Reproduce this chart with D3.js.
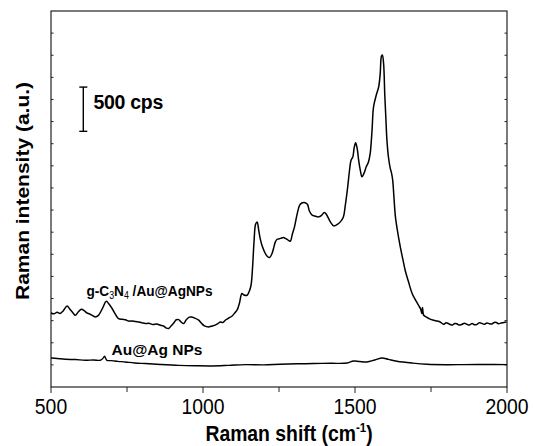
<!DOCTYPE html>
<html>
<head>
<meta charset="utf-8">
<script src="https://cdn.jsdelivr.net/npm/d3@7"></script>
<style>
  body { margin: 0; background: #fff; }
  text { font-family: "Liberation Sans", Arial, sans-serif; }
</style>
</head>
<body>
<div id="chart"></div>
<script>
// Raman shift (cm-1) and intensity
const hybridShift = [500, 510, 520, 530, 540, 553, 562, 572, 580, 590, 600, 610, 618, 630, 646, 656, 668, 682, 690, 701, 712, 722, 735, 745, 755, 766, 778, 790, 800, 810, 822, 835, 848, 860, 870, 880, 887, 895, 905, 912, 920, 928, 936, 945, 955, 962, 972, 986, 995, 1005, 1018, 1030, 1040, 1050, 1057, 1065, 1075, 1085, 1095, 1105, 1112, 1120, 1128, 1135, 1145, 1152, 1158, 1163, 1168, 1173, 1178, 1183, 1188, 1195, 1205, 1212, 1219, 1226, 1232, 1238, 1243, 1255, 1265, 1271, 1280, 1287, 1294, 1301, 1310, 1318, 1325, 1333, 1340, 1344, 1350, 1359, 1370, 1380, 1390, 1399, 1406, 1413, 1420, 1430, 1438, 1446, 1455, 1462, 1468, 1476, 1482, 1487, 1493, 1497, 1502, 1507, 1512, 1518, 1523, 1530, 1537, 1544, 1550, 1556, 1561, 1570, 1578, 1583, 1587, 1590, 1594, 1598, 1602, 1605, 1610, 1616, 1620, 1624, 1628, 1633, 1640, 1649, 1657, 1665, 1675, 1688, 1698, 1709, 1716, 1720, 1722, 1726, 1735, 1745, 1759, 1770, 1780, 1791, 1800, 1810, 1820, 1828, 1835, 1842, 1850, 1860, 1868, 1876, 1885, 1893, 1900, 1908, 1915, 1925, 1934, 1942, 1950, 1958, 1965, 1972, 1980, 1990, 1998];
const hybridIntensity = [837, 828, 845, 832, 860, 916, 880, 840, 811, 850, 879, 860, 837, 820, 792, 810, 880, 969, 940, 887, 820, 774, 765, 760, 745, 747, 740, 735, 725, 717, 720, 706, 712, 698, 690, 665, 661, 690, 730, 760, 762, 735, 717, 760, 790, 792, 780, 755, 720, 690, 679, 690, 700, 720, 735, 730, 760, 780, 800, 840, 868, 950, 1057, 1040, 1037, 1080, 1150, 1350, 1650, 1840, 1866, 1780, 1679, 1590, 1509, 1475, 1464, 1500, 1566, 1640, 1667, 1680, 1690, 1679, 1660, 1648, 1730, 1810, 1960, 2055, 2080, 2086, 2075, 2063, 1990, 1942, 1930, 1923, 1940, 1973, 1950, 1905, 1860, 1821, 1830, 1848, 1880, 1923, 2050, 2262, 2450, 2564, 2602, 2700, 2760, 2700, 2564, 2440, 2376, 2420, 2489, 2540, 2640, 2900, 3167, 3300, 3394, 3545, 3740, 3752, 3658, 3300, 3000, 2791, 2600, 2471, 2420, 2338, 2150, 1923, 1760, 1584, 1450, 1320, 1200, 1057, 990, 924, 880, 830, 900, 811, 790, 770, 755, 745, 735, 709, 725, 712, 700, 718, 715, 700, 705, 720, 709, 700, 718, 704, 705, 725, 722, 708, 724, 715, 712, 730, 730, 715, 722, 730, 735];

const bareShift = [500, 520, 547, 580, 613, 640, 662, 670, 676, 684, 700, 720, 744, 775, 810, 860, 920, 975, 1030, 1085, 1139, 1200, 1254, 1310, 1364, 1420, 1474, 1495, 1515, 1539, 1565, 1589, 1610, 1638, 1690, 1737, 1800, 1857, 1930, 2000];
const bareIntensity = [328, 322, 313, 310, 302, 306, 302, 320, 347, 302, 298, 290, 283, 272, 265, 255, 245, 240, 238, 245, 253, 250, 257, 262, 265, 268, 271, 294, 288, 283, 305, 328, 312, 291, 270, 257, 252, 253, 255, 253];

const xTicksMajor = [500, 1000, 1500, 2000];
const xTicksMinor = [750, 1250, 1750];
const yTickStep = 250;
const scaleBar = [3390, 2890]; // 500 cps
const scaleBarLabel = "500 cps";

const width = 534, height = 446;
const margin = { top: 11, right: 27, bottom: 59, left: 51 };
const squeeze = 0.88;

const svg = d3.select("#chart").append("svg")
  .attr("width", width)
  .attr("height", height);

const x = d3.scaleLinear().domain([500, 2000]).range([margin.left, width - margin.right]);
const y = d3.scaleLinear().domain([0, 4250]).range([height - margin.bottom, margin.top]);

const x0 = x.range()[0], x1 = x.range()[1];
const yb = y.range()[0], yt = y.range()[1];

// frame
svg.append("rect")
  .attr("x", x0).attr("y", yt)
  .attr("width", x1 - x0).attr("height", yb - yt)
  .attr("fill", "none").attr("stroke", "#222").attr("stroke-width", 1.2);

// bottom ticks (outside)
svg.append("g").selectAll("line")
  .data(xTicksMajor.concat(xTicksMinor))
  .join("line")
    .attr("x1", d => x(d)).attr("x2", d => x(d))
    .attr("y1", yb).attr("y2", d => yb + (xTicksMajor.includes(d) ? 6 : 5))
    .attr("stroke", "#222");

svg.append("g").selectAll("text")
  .data(xTicksMajor)
  .join("text")
    .attr("transform", d => `translate(${x(d)}, ${yb + 26.5}) scale(${squeeze},1)`)
    .attr("text-anchor", "middle")
    .style("font-size", "22px")
    .text(d => d);

// y ticks inside, left and right, no labels
const yTicks = d3.range(yTickStep, 4250, yTickStep);
svg.append("g").selectAll("line")
  .data(yTicks)
  .join("line")
    .attr("x1", x0).attr("x2", x0 + 2.5)
    .attr("y1", d => y(d)).attr("y2", d => y(d))
    .attr("stroke", "#222");
svg.append("g").selectAll("line")
  .data(yTicks)
  .join("line")
    .attr("x1", x1).attr("x2", x1 - 2.5)
    .attr("y1", d => y(d)).attr("y2", d => y(d))
    .attr("stroke", "#222");

// spectra
const line = d3.line()
  .x(d => x(d[0]))
  .y(d => y(d[1]))
  .curve(d3.curveCatmullRom.alpha(0.5));

svg.append("path")
  .datum(d3.zip(hybridShift, hybridIntensity))
  .attr("d", line)
  .attr("fill", "none")
  .attr("stroke", "#000")
  .attr("stroke-width", 1.5)
  .attr("stroke-linejoin", "round");

svg.append("path")
  .datum(d3.zip(bareShift, bareIntensity))
  .attr("d", line)
  .attr("fill", "none")
  .attr("stroke", "#000")
  .attr("stroke-width", 1.4)
  .attr("stroke-linejoin", "round");

// scale bar 500 cps
const barX = 83.3;
const barTop = y(scaleBar[0]), barBot = y(scaleBar[1]);
const bar = svg.append("g").attr("stroke", "#000").attr("stroke-width", 1.4);
bar.append("line").attr("x1", barX).attr("x2", barX).attr("y1", barTop).attr("y2", barBot);
bar.append("line").attr("x1", barX - 4).attr("x2", barX + 4).attr("y1", barTop).attr("y2", barTop);
bar.append("line").attr("x1", barX - 4).attr("x2", barX + 4).attr("y1", barBot).attr("y2", barBot);

svg.append("text")
  .attr("x", 93.5).attr("y", 108.5)
  .style("font-size", "19.5px")
  .style("font-weight", "bold")
  .style("letter-spacing", "-0.3px")
  .text(scaleBarLabel);

// curve labels
const lab1 = svg.append("text")
  .attr("transform", `translate(86.5, 296) scale(${squeeze},1)`)
  .style("font-size", "15.5px")
  .style("font-weight", "bold");
lab1.append("tspan").text("g-C");
lab1.append("tspan").attr("dy", 3).style("font-size", "10px").style("font-weight", "normal").text("3");
lab1.append("tspan").attr("dy", -3).text("N");
lab1.append("tspan").attr("dy", 3).style("font-size", "10px").style("font-weight", "normal").text("4");
lab1.append("tspan").attr("dy", -3).text(" /Au@AgNPs");

svg.append("text")
  .attr("x", 111.5).attr("y", 355)
  .style("font-size", "15.5px")
  .style("font-weight", "bold")
  .text("Au@Ag NPs");

// axis titles
const xt = svg.append("text")
  .attr("transform", `translate(${(x0 + x1) / 2 + 10}, 441) scale(${squeeze},1)`)
  .attr("text-anchor", "middle")
  .style("font-size", "22px")
  .style("font-weight", "bold");
xt.append("tspan").text("Raman shift (cm");
xt.append("tspan").attr("dy", -9).style("font-size", "13px").text("-1");
xt.append("tspan").attr("dy", 9).text(")");

svg.append("text")
  .attr("transform", `translate(29, ${(yt + yb) / 2 - 8}) scale(${squeeze},1) rotate(-90)`)
  .attr("text-anchor", "middle")
  .style("font-size", "21px")
  .style("font-weight", "bold")
  .text("Raman intensity (a.u.)");
</script>
</body>
</html>
